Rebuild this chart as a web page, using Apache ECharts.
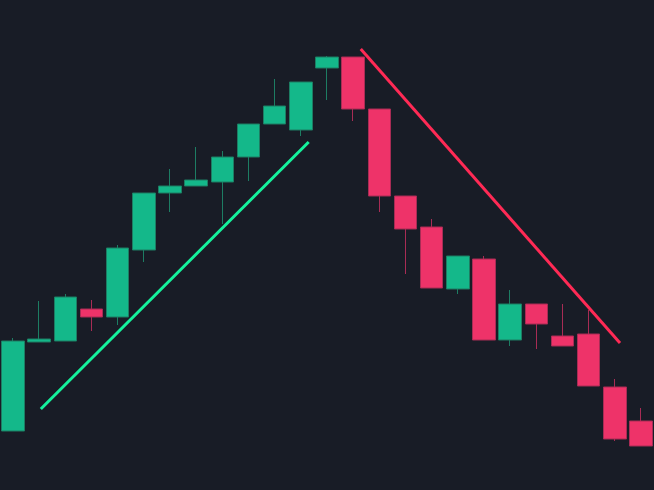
<!DOCTYPE html>
<html>
<head>
<meta charset="utf-8">
<script src="https://cdn.jsdelivr.net/npm/echarts@6/dist/echarts.min.js"></script>
<style>
html,body{margin:0;padding:0;background:#181c26;}
#chart{width:654px;height:490px;}
</style>
</head>
<body>
<div id="chart"></div>
<script>
// Candle index labels
const categories = Array.from({length: 25}, (_, i) => 'C' + (i + 1));
// [open, close, low, high]
const candles = [
  [59, 149, 59, 152],
  [148, 151, 148, 189],
  [149, 193, 149, 196],
  [181, 173, 159, 190],
  [173, 242, 165, 245],
  [240, 297, 228, 297],
  [297, 304, 278, 321],
  [304, 310, 304, 343],
  [308, 333, 266, 339],
  [333, 366, 309, 366],
  [366, 384, 366, 411],
  [360, 408, 354, 408],
  [422, 433, 390, 434],
  [433, 381, 369, 433],
  [381, 294, 278, 381],
  [294, 261, 216, 294],
  [263, 202, 202, 271],
  [201, 234, 196, 234],
  [231, 150, 150, 234],
  [150, 186, 144, 200],
  [186, 166, 141, 186],
  [154, 144, 144, 186],
  [156, 104, 104, 180],
  [103, 51, 49, 111],
  [69, 44, 44, 82]
];
// Trend lines: [candle index position, price]
const upTrend = [[1.06, 81], [11.3, 348]];
const downTrend = [[13.29, 441], [23.2, 147]];

const chart = echarts.init(document.getElementById('chart'));
chart.setOption({
  backgroundColor: '#181c26',
  animation: false,
  grid: {left: 0, right: 0, top: 0, bottom: 0},
  xAxis: [
    {type: 'category', data: categories, boundaryGap: true, show: false},
    {type: 'value', min: -0.5, max: 24.5, show: false}
  ],
  yAxis: {type: 'value', min: 0, max: 490, show: false},
  series: [
    {
      type: 'candlestick',
      data: candles,
      barWidth: '88%',
      itemStyle: {
        color: '#14b88a',
        color0: '#ee3369',
        borderColor: '#1d7d63',
        borderColor0: '#a82c55',
        borderWidth: 1
      }
    },
    {
      type: 'line', xAxisIndex: 1, data: upTrend, symbol: 'none',
      lineStyle: {color: '#14f29c', width: 3}, z: 5
    },
    {
      type: 'line', xAxisIndex: 1, data: downTrend, symbol: 'none',
      lineStyle: {color: '#ff2a55', width: 3}, z: 5
    }
  ]
});
</script>
</body>
</html>
